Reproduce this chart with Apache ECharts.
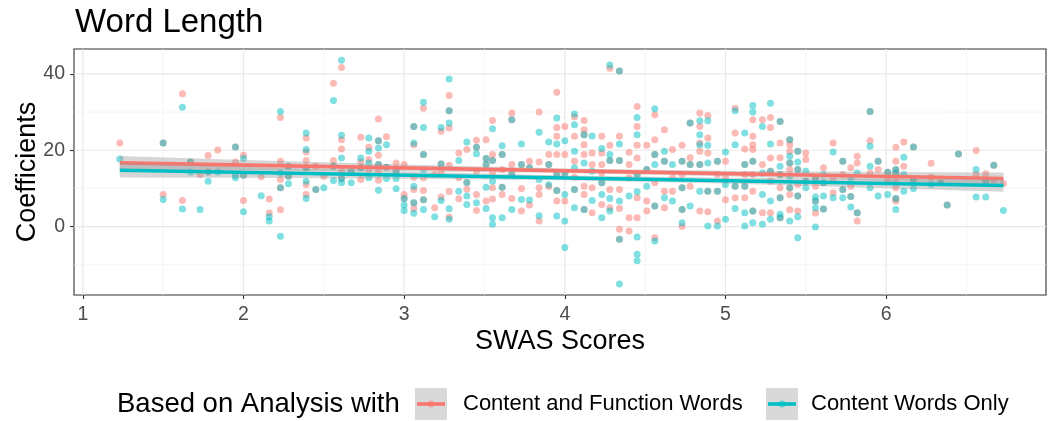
<!DOCTYPE html>
<html><head><meta charset="utf-8">
<script src="https://cdn.jsdelivr.net/npm/echarts@6/dist/echarts.min.js"></script>
<style>html,body{margin:0;padding:0;background:#fff}#c{width:1050px;height:421px}</style>
</head><body><div id="c"></div>
<script>
// ---------- data ----------
const xTickValues = [1, 2, 3, 4, 5, 6];
const xMinorValues = [1.5, 2.5, 3.5, 4.5, 5.5, 6.5];
const yTickValues = [0, 20, 40];
const yMinorValues = [-10, 10, 30];
const seriesNames = ['Content and Function Words', 'Content Words Only'];

// [SWAS score, [coefficients...]]
const cfwColumns = [
[1.23,[21.9]],[1.50,[21.9,8.42]],[1.62,[34.76,6.86]],[1.67,[16.94]],[1.73,[13.64]],[1.78,[18.59,14.33]],
[1.84,[20.07]],[1.95,[20.85,16.94]],[2.00,[18.68,13.46,6.86]],[2.11,[13.03]],[2.16,[7.21,3.56]],
[2.23,[28.59,17.11,12.33,10.16,4.43]],[2.28,[15.81,13.2]],[2.39,[23.2,19.55,17.29,15.38,11.03,8.42]],
[2.45,[15.81,9.73]],[2.50,[13.2]],[2.56,[37.54,17.29,15.81]],[2.61,[41.63,22.76,20.33,14.51,12.6]],
[2.67,[14.68]],[2.73,[23.37,16.94,15.38,12.33]],[2.78,[20.77,17.55,14.94]],[2.84,[28.15,22.5,18.68,16.25,14.51,12.16]],
[2.89,[23.55,15.55]],[2.95,[16.68,14.51]],[3.00,[16.25,8.42,7.38]],[3.06,[26.24,21.46,12.94,9.73,6.25,4.77]],
[3.12,[31.02,18.85,12.77,9.47,7.03]],[3.19,[13.64,4.95]],[3.23,[24.94,16.42,14.07,7.73]],
[3.28,[34.33,30.33,25.81,16.07,9.21,2.51]],[3.34,[19.29,12.77,7.29]],[3.39,[20.16,11.55,9.81]],
[3.45,[22.59,20.77,14.51,8.42,4.25]],[3.51,[22.76,17.81,16.25,6.69]],[3.55,[27.81,18.85,17.29,14.07,10.16,7.21]],
[3.61,[18.85,14.94,10.34,8.42]],[3.67,[29.72,27.98,16.25,13.64,7.38]],[3.73,[16.25,9.99,4.08]],
[3.78,[17.11,15.38,5.64]],[3.84,[29.98,16.94,10.16,8.42,1.47]],[3.90,[18.85,16.25,10.51]],
[3.95,[35.2,25.98,23.63,18.85,13.64,9.47,6.69]],[4.00,[26.24,18.85,13.99,6.69]],[4.06,[28.76,23.63,17.11,12.94,9.73]],
[4.12,[27.81,25.37,24.07,21.46,18.85,10.6,8.42,4.51]],[4.17,[19.29,16.25,10.16,3.64]],
[4.23,[23.63,19.29,16.25,14.07,11.47,5.82]],[4.28,[41.45,21.29,17.29,9.73,4.95]],
[4.34,[40.76,23.63,17.29,9.73,4.77,-0.7,-3.31]],[4.40,[19.46,16.25,12.77,2.34,-1.14]],
[4.45,[31.46,26.24,21.29,17.98,13.64,7.55,2.34]],[4.51,[21.29,14.94,6.69,4.08]],
[4.56,[29.28,22.76,18.85,11.47,5.38,-2.88]],[4.62,[25.37,17.11,9.29,4.95]],[4.67,[20.16,12.77,9.29]],
[4.73,[21.29,17.11,13.64,10.16,4.51,0.0]],[4.78,[27.11,18.0,16.25,10.6]],[4.84,[29.72,26.24,21.9,19.72,16.25,4.08]],
[4.89,[29.11,23.2,19.29,9.29,3.9]],[4.95,[17.11,13.64,9.29,1.47]],[5.00,[17.11,13.2,7.03]],
[5.06,[31.02,24.5,10.6,7.55]],[5.12,[20.33,16.25,13.64,10.6,7.55]],[5.17,[27.98,23.63,21.46,20.16,17.11,13.64,9.29,4.08]],
[5.23,[27.98,16.25,3.64]],[5.28,[28.59,25.98,17.98,14.5,11.9,3.64]],[5.34,[27.55,21.9,18.0,13.64,10.16,7.55,2.34]],
[5.40,[22.76,21.46,19.72,16.68,14.94,10.16,8.42,4.43]],[5.45,[19.72,14.94,11.03,8.0,4.08]],[5.50,[19.29,17.55,11.9]],
[5.56,[12.6,10.6,6.69,3.56]],[5.61,[15.38,11.47,4.6]],[5.67,[21.9,12.33,8.86]],[5.73,[17.11,13.64,9.73]],
[5.78,[15.38,10.6,7.9]],[5.82,[18.42,16.68,3.64,1.47]],[5.90,[30.15,22.5,14.07]],[5.95,[17.11,14.94]],
[6.01,[14.25,11.9]],[6.06,[20.77,17.11,14.94,14.07,11.9,10.16,7.38,6.69]],[6.11,[22.16,15.81]],[6.17,[20.85,12.33]],
[6.28,[16.59,12.94]],[6.34,[11.5]],[6.38,[5.64]],[6.45,[19.03]],[6.56,[19.9,13.64]],[6.62,[13.81,11.9]],
[6.67,[16.07,12.16]],[6.73,[11.29]]
];
const cwoColumns = [
[1.23,[17.72]],[1.50,[21.9,7.12]],[1.62,[31.28,4.6]],[1.67,[16.94,14.33]],[1.73,[4.51]],[1.78,[14.33,11.9]],
[1.84,[14.33]],[1.95,[20.85,13.46,12.77]],[2.00,[17.81,13.46,3.9]],[2.11,[8.08]],[2.16,[2.6,1.47]],
[2.23,[30.15,14.07,10.16,-2.53]],[2.28,[15.81,13.2,11.2]],[2.39,[24.5,20.16,15.38,11.9,7.38]],[2.45,[9.73]],
[2.50,[10.16]],[2.56,[33.02,15.81,12.07]],[2.61,[43.54,23.9,17.98,12.6,11.47]],[2.67,[14.68,11.47]],
[2.73,[17.98,15.38]],[2.78,[23.2,19.72,16.68,12.77]],[2.84,[22.5,20.59,16.25,9.55]],[2.89,[21.46,15.55,12.6]],
[2.95,[14.51,12.6,9.9]],[3.00,[7.38,5.64,4.25]],[3.06,[26.24,21.9,10.6,6.25,3.47]],
[3.12,[32.59,25.98,18.85,14.94,7.03,4.51]],[3.19,[2.6]],[3.23,[25.98,16.42,6.86]],[3.28,[38.67,30.33,27.11,4.69,1.9]],
[3.34,[17.29,9.29]],[3.39,[22.16,11.55,7.99,5.82]],[3.45,[20.77,19.11,6.25]],[3.51,[17.81,16.25,10.34,4.77]],
[3.55,[25.63,17.29,11.9,2.34,0.6]],[3.61,[21.2,18.85,10.34,2.34]],[3.67,[27.98,13.64,4.51]],[3.73,[21.64,16.25,7.12]],
[3.78,[15.38,6.99]],[3.84,[24.68,12.33,2.86]],[3.90,[22.16,16.25,10.98]],[3.95,[28.42,21.64,13.64,9.47,2.77]],
[4.00,[22.5,13.99,8.42,1.47,-5.48]],[4.06,[29.46,26.68,19.72,15.38,9.73,4.95]],[4.12,[24.07,16.68,4.51]],
[4.17,[23.72,14.51,6.86]],[4.23,[20.42,11.47,8.42,2.34]],[4.28,[42.32,18.85,17.29,7.38,4.08]],
[4.34,[40.76,21.64,17.29,6.69,-3.31,-15.05]],[4.40,[7.99]],[4.45,[28.59,24.07,13.64,9.12,-2.7,-7.22,-8.96]],
[4.51,[14.94,10.6]],[4.56,[30.85,18.85,16.25,5.38,-3.75]],[4.62,[19.72,17.11,7.55]],[4.67,[16.25,6.69]],
[4.73,[17.11,10.16,4.51,1.04]],[4.78,[27.11,16.25,5.38]],[4.84,[27.72,24.07,21.46,16.25,9.29]],
[4.89,[27.72,21.29,16.68,9.29,0.17]],[4.95,[17.11,9.29,0.17]],[5.00,[19.55,11.03,1.9]],[5.06,[30.33,21.46,10.6,4.77]],
[5.12,[24.5,16.25,10.6,3.64,0.17]],[5.17,[31.72,29.98,17.11,4.08,1.04]],[5.23,[26.24,14.07,8.42,0.6]],
[5.28,[32.33,21.64,14.5,6.69,1.9]],[5.34,[27.55,15.81,13.64,7.55,3.21,2.34]],[5.40,[22.76,18.42,16.68,13.2,10.16,1.47]],
[5.45,[19.72,16.94,14.94,8.0,2.6,-2.88]],[5.50,[14.51,11.9,10.16]],[5.56,[12.6,7.73,6.69,4.95,-0.09]],
[5.61,[13.64,11.47,7.99,4.6]],[5.67,[19.55,7.55]],[5.73,[17.11,9.73,7.55]],[5.78,[12.77,7.9,5.12]],
[5.82,[14.07,3.64]],[5.90,[30.15,21.03,15.81,10.16]],[5.95,[17.11,7.99]],[6.01,[14.25,8.42]],
[6.06,[14.94,14.07,7.38,4.51]],[6.11,[18.16,13.64,9.29]],[6.17,[20.85,12.33,10.0]],[6.28,[11.03]],
[6.34,[11.5]],[6.38,[5.64]],[6.45,[19.03]],[6.56,[14.94,7.73]],[6.62,[11.9,7.73]],[6.67,[16.07]],[6.73,[4.25]]
];

// fitted lines
const trendX = [1.23, 6.73];
const cfwTrend = [16.68, 12.6];
const cwoTrend = [14.77, 10.77];
// confidence bands
const bandX = [1.23, 2, 3, 4, 5, 6, 6.73];
const cfwUpper = [18.5, 17.45, 16.25, 15.22, 14.6, 14.33, 14.15];
const cfwLower = [14.86, 14.77, 14.49, 14.02, 13.16, 11.95, 11.05];
const cwoUpper = [16.7, 15.6, 14.4, 13.41, 12.8, 12.55, 12.42];
const cwoLower = [12.84, 12.82, 12.56, 12.11, 11.26, 10.05, 9.12];

// ---------- chart ----------
const X_MIN = 0.945, X_MAX = 6.995, Y_MIN = -17.9, Y_MAX = 46.5;
const RED = '#F8766D', BLUE = '#00BFC4';
const FONT = 'Liberation Sans, Arial, sans-serif';

const flatten = cols => cols.flatMap(([x, ys]) => ys.map(y => [x, y]));

const vGrid = xTickValues.map(v => [v, 0, 1]).concat(xMinorValues.map(v => [v, 0, 0]));
const hGrid = yTickValues.map(v => [X_MIN, v, 1]).concat(yMinorValues.map(v => [X_MIN, v, 0]));

function gridSeries(data, vertical) {
  return {
    type: 'custom', silent: true, z: 0, data: data,
    renderItem: (p, api) => {
      const major = api.value(2);
      let a, b;
      if (vertical) { a = api.coord([api.value(0), Y_MIN]); b = api.coord([api.value(0), Y_MAX]); }
      else { a = api.coord([X_MIN, api.value(1)]); b = api.coord([X_MAX, api.value(1)]); }
      return { type: 'line', shape: { x1: a[0], y1: a[1], x2: b[0], y2: b[1] },
        style: { stroke: major ? '#e8e8e8' : '#f0f0f0', lineWidth: major ? 1.2 : 0.7 } };
    }
  };
}
function bandSeries(upper, lower, z) {
  return {
    type: 'custom', silent: true, z: z, data: [[bandX[0], upper[0]]],
    renderItem: (p, api) => {
      const pts = [];
      bandX.forEach((x, i) => pts.push(api.coord([x, upper[i]])));
      for (let i = bandX.length - 1; i >= 0; i--) pts.push(api.coord([bandX[i], lower[i]]));
      return { type: 'polygon', shape: { points: pts }, style: { fill: 'rgba(153,153,153,0.4)' } };
    }
  };
}
function lineSeries(vals, color, z) {
  return { type: 'line', silent: true, z: z, showSymbol: false, symbol: 'none',
    data: trendX.map((x, i) => [x, vals[i]]),
    lineStyle: { color: color, width: 3.6 } };
}

const chart = echarts.init(document.getElementById('c'), null, { renderer: 'canvas' });
chart.setOption({
  animation: false,
  backgroundColor: '#ffffff',
  title: { text: 'Word Length', left: 70, top: 1,
    textStyle: { fontFamily: FONT, fontSize: 33, fontWeight: 'normal', color: '#000' } },
  grid: { left: 74, right: 4, top: 49, bottom: 126, show: true, borderColor: '#333333', borderWidth: 1.1, backgroundColor: 'transparent' },
  xAxis: {
    type: 'value', min: X_MIN, max: X_MAX,
    axisLine: { show: false, onZero: false },
    splitLine: { show: false },
    axisTick: { show: true, length: 4, lineStyle: { color: '#333333', width: 1.1 }, customValues: xTickValues },
    axisLabel: { customValues: xTickValues, color: '#4d4d4d', fontSize: 19.5, fontFamily: FONT, margin: 10 }
  },
  yAxis: {
    type: 'value', min: Y_MIN, max: Y_MAX,
    axisLine: { show: false, onZero: false },
    splitLine: { show: false },
    axisTick: { show: true, length: 4, lineStyle: { color: '#333333', width: 1.1 }, customValues: yTickValues },
    axisLabel: { customValues: yTickValues, color: '#4d4d4d', fontSize: 19.5, fontFamily: FONT, margin: 9 }
  },
  series: [
    gridSeries(vGrid, true),
    gridSeries(hGrid, false),
    { name: seriesNames[0], type: 'scatter', z: 2, symbolSize: 7, data: flatten(cfwColumns),
      itemStyle: { color: RED, opacity: 0.5 } },
    { name: seriesNames[1], type: 'scatter', z: 2, symbolSize: 7, data: flatten(cwoColumns),
      itemStyle: { color: BLUE, opacity: 0.5 } },
    bandSeries(cfwUpper, cfwLower, 3),
    lineSeries(cfwTrend, RED, 4),
    bandSeries(cwoUpper, cwoLower, 5),
    lineSeries(cwoTrend, BLUE, 6)
  ],
  graphic: [
    { type: 'text', x: 28, y: 172, rotation: Math.PI / 2,
      style: { text: 'Coefficients', fontFamily: FONT, fontSize: 27, fill: '#000', align: 'center', verticalAlign: 'middle' } },
    { type: 'text', x: 560, y: 342,
      style: { text: 'SWAS Scores', fontFamily: FONT, fontSize: 27, fill: '#000', align: 'center', verticalAlign: 'middle' } },
    { type: 'text', x: 117, y: 404,
      style: { text: 'Based on Analysis with', fontFamily: FONT, fontSize: 27.5, fill: '#000', align: 'left', verticalAlign: 'middle' } },
    { type: 'rect', shape: { x: 415, y: 388, width: 32, height: 32 }, style: { fill: '#d9d9d9' } },
    { type: 'line', shape: { x1: 417, y1: 404, x2: 445, y2: 404 }, style: { stroke: RED, lineWidth: 3.6 } },
    { type: 'circle', shape: { cx: 431, cy: 404, r: 3.5 }, style: { fill: RED, opacity: 0.5 } },
    { type: 'text', x: 463, y: 404,
      style: { text: seriesNames[0], fontFamily: FONT, fontSize: 22, fill: '#000', align: 'left', verticalAlign: 'middle' } },
    { type: 'rect', shape: { x: 766, y: 388, width: 32, height: 32 }, style: { fill: '#d9d9d9' } },
    { type: 'line', shape: { x1: 768, y1: 404, x2: 796, y2: 404 }, style: { stroke: BLUE, lineWidth: 3.6 } },
    { type: 'circle', shape: { cx: 782, cy: 404, r: 3.5 }, style: { fill: BLUE, opacity: 0.5 } },
    { type: 'text', x: 811, y: 404,
      style: { text: seriesNames[1], fontFamily: FONT, fontSize: 22, fill: '#000', align: 'left', verticalAlign: 'middle' } }
  ]
});
</script></body></html>
